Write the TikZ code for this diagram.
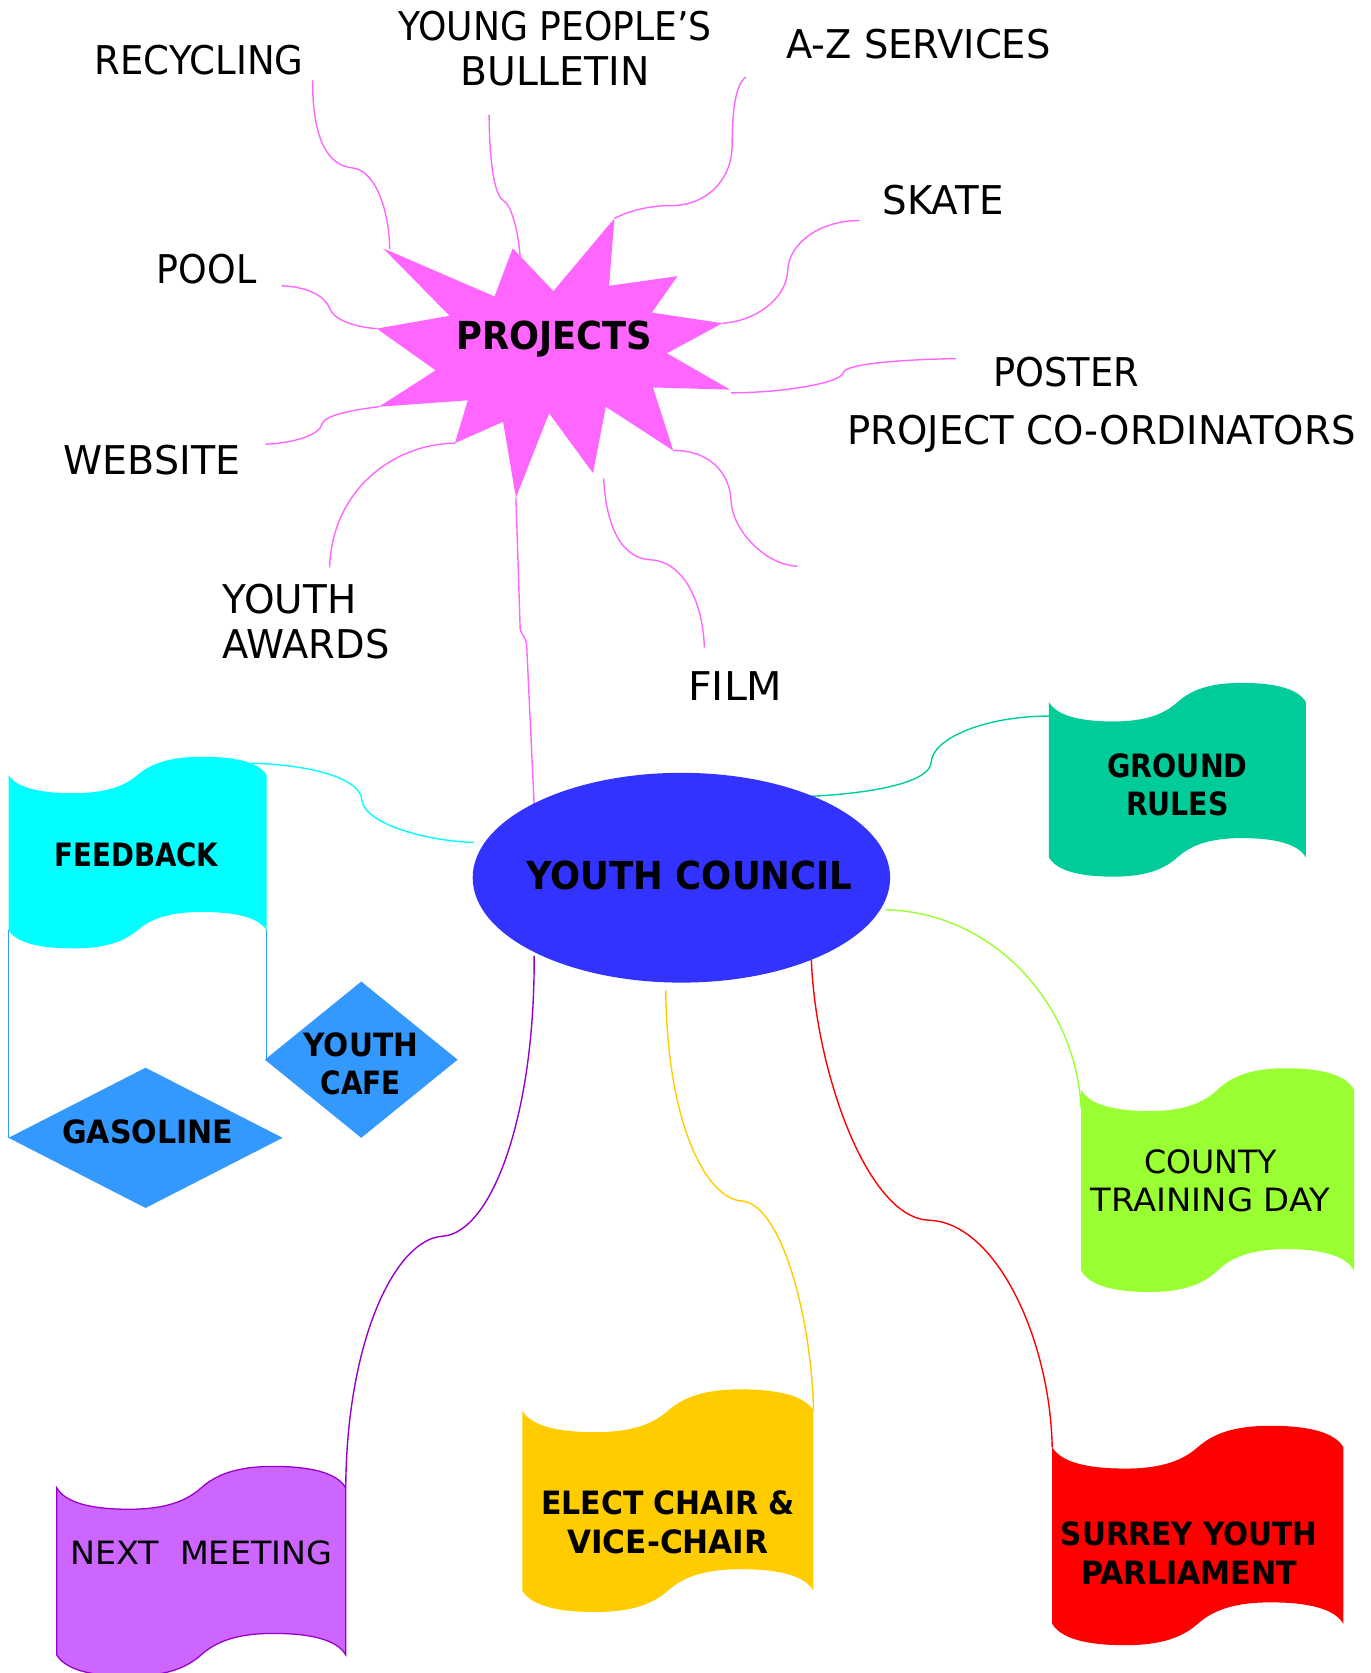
\documentclass[tikz,border=0pt]{standalone}
\usepackage{fontspec}
\setmainfont{DejaVu Sans}
\usepackage{graphicx}
\usetikzlibrary{shapes.geometric}
\pgfdeclarelayer{paper}
\pgfdeclarelayer{background}
\pgfsetlayers{paper,background,main}
\definecolor{pinkc}{HTML}{FF66FF}
\definecolor{ycblue}{HTML}{3333FF}
\definecolor{cyanc}{HTML}{00FFFF}
\definecolor{tealc}{HTML}{00CC99}
\definecolor{limec}{HTML}{99FF33}
\definecolor{yelc}{HTML}{FFCC00}
\definecolor{redc}{HTML}{FF0000}
\definecolor{purf}{HTML}{CC66FF}
\definecolor{purl}{HTML}{9900CC}
\definecolor{dblue}{HTML}{3399FF}
\newcommand\fitw[3]{\resizebox{#1pt}{\height}{\fontsize{#2}{#2}\selectfont #3}}
\newcommand\lab[2]{\fitw{#1}{37}{#2}}
\newcommand\flt[2]{\fitw{#1}{30}{#2}}
\newcommand\flb[2]{\fitw{#1}{30}{\bfseries #2}}
\newcommand\flag[7]{%
 \path[#7] (#2,#3)
  .. controls ({#2+0.03*#4},{#3+0.7*#6}) and ({#2+0.12*#4},{#3+#6}) .. ({#2+0.25*#4},{#3+#6})
  .. controls ({#2+0.38*#4},{#3+#6}) and ({#2+0.45*#4},{#3+0.6*#6}) .. ({#2+0.5*#4},{#3})
  .. controls ({#2+0.55*#4},{#3-0.6*#6}) and ({#2+0.62*#4},{#3-#6}) .. ({#2+0.75*#4},{#3-#6})
  .. controls ({#2+0.88*#4},{#3-#6}) and ({#2+0.97*#4},{#3-0.7*#6}) .. ({#2+#4},{#3})
  -- ({#2+#4},{#3+#5})
  .. controls ({#2+0.97*#4},{#3+#5-0.7*#6}) and ({#2+0.88*#4},{#3+#5-#6}) .. ({#2+0.75*#4},{#3+#5-#6})
  .. controls ({#2+0.62*#4},{#3+#5-#6}) and ({#2+0.55*#4},{#3+#5-0.6*#6}) .. ({#2+0.5*#4},{#3+#5})
  .. controls ({#2+0.45*#4},{#3+#5+0.6*#6}) and ({#2+0.38*#4},{#3+#5+#6}) .. ({#2+0.25*#4},{#3+#5+#6})
  .. controls ({#2+0.12*#4},{#3+#5+#6}) and ({#2+0.03*#4},{#3+#5+0.7*#6}) .. ({#2},{#3+#5})
  -- cycle;
 \node[minimum width=#4pt, minimum height=#5pt, anchor=north west] (#1) at (#2,#3) {};
}
\tikzset{
 every node/.style={inner sep=0pt, outer sep=0pt},
 conn/.style={line width=1.3pt},
 pinkline/.style={conn, draw=pinkc},
 blueline/.style={conn, draw=dblue},
 lines2/.style={align=center, font=\fontsize{37}{42}\selectfont},
 flines/.style={align=center, font=\fontsize{30}{36}\selectfont},
}
\begin{document}
\begin{tikzpicture}[x=1pt,y=-1pt]
\useasboundingbox (0,0) rectangle (1280,1563);
\begin{pgfonlayer}{paper}
\fill[white] (0,0) rectangle (1280,1563);
\end{pgfonlayer}

% ---------- star ----------
\coordinate (s1) at (358,232); \coordinate (i1) at (462,277);
\coordinate (s2) at (479,232); \coordinate (i2) at (517,272);
\coordinate (s3) at (574,204); \coordinate (i3) at (569,267);
\coordinate (s4) at (633,258); \coordinate (i4) at (609,292);
\coordinate (s5) at (675,302); \coordinate (i5) at (623,330);
\coordinate (s6) at (682,364); \coordinate (i6) at (610,362);
\coordinate (s7) at (629,421); \coordinate (i7) at (566,380);
\coordinate (s8) at (554,442); \coordinate (i8) at (513,386);
\coordinate (s9) at (482,465); \coordinate (i9) at (470,394);
\coordinate (s10) at (425,414); \coordinate (i10) at (437,374);
\coordinate (s11) at (354,380); \coordinate (i11) at (407,346);
\coordinate (s12) at (352,307); \coordinate (i12) at (420,295);
\fill[pinkc] (s1) -- (i1) -- (s2) -- (i2) -- (s3) -- (i3) -- (s4) -- (i4) -- (s5) -- (i5) -- (s6) -- (i6)
 -- (s7) -- (i7) -- (s8) -- (i8) -- (s9) -- (i9) -- (s10) -- (i10) -- (s11) -- (i11) -- (s12) -- (i12) -- cycle;
\node (proj) at (518,317) {\fitw{183}{36}{\bfseries PROJECTS}};

% ---------- project labels ----------
\node (rec) at (186,56) {\lab{195}{RECYCLING}};
\node[lines2] (ypb) at (518.5,45) {\lab{293}{YOUNG PEOPLE’S}\\\lab{177}{BULLETIN}};
\node (azs) at (858,41) {\lab{247}{A-Z SERVICES}};
\node (skate) at (881,187) {\lab{113}{SKATE}};
\node (pool) at (193,251) {\lab{93}{POOL}};
\node (poster) at (996,348) {\lab{136}{POSTER}};
\node (pco) at (1029,405) {\lab{475}{PROJECT CO-ORDINATORS}};
\node (web) at (142,430) {\lab{165}{WEBSITE}};
\node[lines2, align=left, anchor=west] (awards) at (208,581) {\lab{125}{YOUTH}\\\lab{156}{AWARDS}};
\node (film) at (687,641) {\lab{88}{FILM}};

% ---------- youth council ----------
\node[ellipse, fill=ycblue, minimum width=390pt, minimum height=196pt] (yc) at (636.6,820) {};
\node (ycT) at (644,818) {\fitw{305}{36}{\bfseries YOUTH COUNCIL}};

% ---------- flags ----------
\flag{fb}{8}{724}{241}{145}{17}{fill=cyanc}
\flag{gr}{980}{656}{240}{145}{18}{fill=tealc}
\flag{ctd}{1010}{1018}{255}{169}{20}{fill=limec}
\flag{nm}{53}{1390}{270}{156}{20}{fill=purf, draw=purl, line width=1.2pt}
\flag{ec}{488}{1318}{272}{168}{20}{fill=yelc}
\flag{sy}{983}{1352}{272}{165}{20}{fill=redc}

\node (fbT) at (127.5,799) {\flb{153}{FEEDBACK}};
\node[flines] (grT) at (1100,733) {\flb{131}{GROUND}\\\flb{96}{RULES}};
\node[flines] (ctdT) at (1131,1103) {\flt{124}{COUNTY}\\\flt{224}{TRAINING DAY}};
\node (nmT) at (188,1451) {\flt{245}{NEXT~ MEETING}};
\node[flines] (ecT) at (624,1422) {\flb{237}{ELECT CHAIR \&}\\\flb{188}{VICE-CHAIR}};
\node[flines] (syT) at (1111,1451) {\flb{240}{SURREY YOUTH}\\\flb{202}{PARLIAMENT}};

% ---------- diamonds ----------
\node[diamond, fill=dblue, minimum width=256pt, minimum height=131pt] (gas) at (136,1063) {};
\node[diamond, fill=dblue, minimum width=180pt, minimum height=146pt] (cafe) at (337.5,990) {};
\node (gasT) at (138,1057) {\flb{160}{GASOLINE}};
\node[flines] (cafeT) at (337,994) {\flb{107}{YOUTH}\\\flb{75}{CAFE}};

% ---------- connectors ----------
\coordinate (recA) at (292,75);
\coordinate (ypbA) at (457,107);
\coordinate (azsA) at (697,72);
\coordinate (skA) at (803,206);
\coordinate (poA) at (893,335);
\coordinate (pcoA) at (745,529);
\coordinate (fiA) at (658,605);
\coordinate (awA) at (308,530);
\coordinate (webA) at (248,415);
\coordinate (poolA) at (263,267);
\coordinate (ycTop) at (499,751);
\coordinate (ycL) at (443,787);
\coordinate (ycUR) at (756,744);
\coordinate (ycR) at (828,850);
\coordinate (ycBL) at (499,893);
\coordinate (ycB) at (622,925);
\coordinate (ycBR) at (758,897);

\begin{pgfonlayer}{background}
\draw[pinkline] (recA) .. controls (292,130) and (306,155) .. (330,157) .. controls (352,160) and (364,200) .. (364,233);
\draw[pinkline] (ypbA) .. controls (457,150) and (462,183) .. (470,187) .. controls (478,192) and (484,215) .. (486,240);
\draw[pinkline] (azsA) .. controls (687,78) and (684,105) .. (684,135) .. controls (684,170) and (658,192) .. (628,192) .. controls (600,192) and (582,200) .. (s3);
\draw[pinkline] (skA) .. controls (765,206) and (737,228) .. (736,252) .. controls (735,280) and (705,300) .. (s5);
\draw[pinkline] (poA) .. controls (840,336) and (790,340) .. (788,348) .. controls (786,358) and (730,367) .. (683,367);
\draw[pinkline] (s7) .. controls (660,420) and (682,440) .. (683,468) .. controls (684,495) and (715,528) .. (pcoA);
\draw[pinkline] (564,447) .. controls (566,490) and (580,522) .. (608,523) .. controls (640,525) and (657,565) .. (fiA);
\draw[pinkline] (s10) .. controls (365,415) and (310,460) .. (awA);
\draw[pinkline] (s11) .. controls (320,384) and (302,390) .. (301,396) .. controls (299,406) and (275,414) .. (webA);
\draw[pinkline] (poolA) .. controls (290,268) and (304,278) .. (308,288) .. controls (312,300) and (335,306) .. (s12);
\draw[pinkline] (s9) -- (486,588) .. controls (487,593) and (491,594) .. (492,602) -- (ycTop);

\draw[conn, draw=cyanc] (235,713) .. controls (300,715) and (337,730) .. (338,747) .. controls (340,770) and (400,786) .. (ycL);
\draw[conn, draw=tealc] (ycUR) .. controls (820,741) and (869,730) .. (870,712) .. controls (871,690) and (920,669) .. ([yshift=-13pt]gr.north west);
\draw[conn, draw=limec] (ycR) .. controls (925,852) and (1005,935) .. ([yshift=-17pt]ctd.north west);
\draw[conn, draw=purl] (ycBL) .. controls (500,1040) and (460,1152) .. (413,1155) .. controls (370,1158) and (324,1250) .. (nm.north east);
\draw[conn, draw=yelc] (ycB) .. controls (623,1050) and (660,1120) .. (693,1122) .. controls (730,1125) and (758,1230) .. (ec.north east);
\draw[conn, draw=redc] (ycBR) .. controls (762,1000) and (810,1138) .. (868,1140) .. controls (930,1142) and (981,1250) .. (sy.north west);
\draw[blueline] (fb.south west) -- (gas.west);
\draw[blueline] (fb.south east) -- (fb.south east |- cafe.west);
\end{pgfonlayer}
\end{tikzpicture}
\end{document}
